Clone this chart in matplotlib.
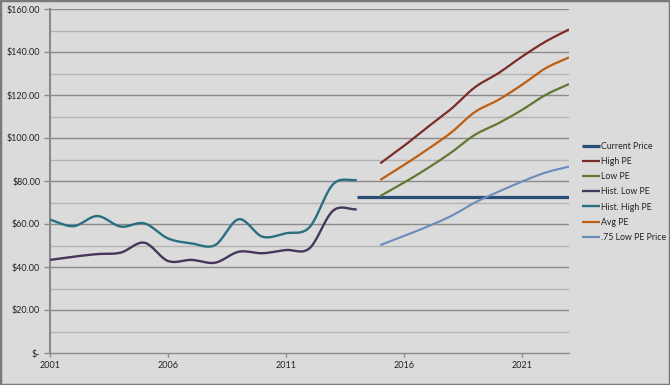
import numpy as np
import matplotlib
matplotlib.use("Agg")
import matplotlib.pyplot as plt
from matplotlib.patches import Rectangle

plt.rcParams['font.family'] = ['Lato', 'DejaVu Sans']

# ---- data ----
hist_years = list(range(2001, 2015))
hist_high_pe = [62.0, 59.0, 63.7, 58.8, 60.3, 53.3, 51.0, 50.2, 62.2, 54.1, 55.7, 58.5, 78.5, 80.5]
hist_low_pe = [43.3, 44.8, 46.0, 46.7, 51.3, 42.8, 43.3, 42.0, 47.1, 46.4, 47.9, 48.7, 66.2, 66.8]

cur_years = list(range(2014, 2024))
current_price = [72.7] * len(cur_years)

fut_years = list(range(2015, 2024))
high_pe = [88.2, 96.3, 105.0, 113.5, 123.5, 130.1, 137.8, 144.8, 150.5]
avg_pe = [80.5, 87.4, 94.7, 102.5, 112.0, 117.7, 124.7, 132.4, 137.5]
low_pe = [73.0, 79.2, 85.9, 93.2, 101.4, 106.8, 113.0, 120.0, 125.1]
low_pe_75 = [50.2, 54.4, 58.8, 63.7, 69.9, 75.0, 79.7, 83.9, 86.7]

xticks = [2001, 2006, 2011, 2016, 2021]
yticks = [0, 20, 40, 60, 80, 100, 120, 140, 160]
ytick_labels = ["$-", "$20.00", "$40.00", "$60.00", "$80.00", "$100.00", "$120.00", "$140.00", "$160.00"]


def smooth(x, y, n=20):
    """Catmull-Rom style smoothing for display (like Excel smoothed lines)."""
    x = np.asarray(x, float)
    y = np.asarray(y, float)
    if len(x) < 3:
        return x, y
    px = np.concatenate([[2 * x[0] - x[1]], x, [2 * x[-1] - x[-2]]])
    py = np.concatenate([[2 * y[0] - y[1]], y, [2 * y[-1] - y[-2]]])
    xs, ys = [], []
    t = np.linspace(0, 1, n, endpoint=False)
    for i in range(1, len(px) - 2):
        p0, p1, p2, p3 = py[i - 1], py[i], py[i + 1], py[i + 2]
        q0, q1, q2, q3 = px[i - 1], px[i], px[i + 1], px[i + 2]
        ys.append(0.5 * ((2 * p1) + (-p0 + p2) * t + (2 * p0 - 5 * p1 + 4 * p2 - p3) * t ** 2
                         + (-p0 + 3 * p1 - 3 * p2 + p3) * t ** 3))
        xs.append(0.5 * ((2 * q1) + (-q0 + q2) * t + (2 * q0 - 5 * q1 + 4 * q2 - q3) * t ** 2
                         + (-q0 + 3 * q1 - 3 * q2 + q3) * t ** 3))
    xs.append([x[-1]])
    ys.append([y[-1]])
    return np.concatenate(xs), np.concatenate(ys)


bg = "#dbdbdb"
fig = plt.figure(figsize=(6.7, 3.85), dpi=100, facecolor=bg)
ax = fig.add_axes([50 / 670, 1 - 353 / 385, (569 - 50) / 670, (353 - 9) / 385])
ax.set_facecolor(bg)

# gridlines
for v in range(10, 161, 10):
    if v % 20 == 0:
        ax.axhline(v, color="#8a8a8a", lw=1.0, zorder=1)
    else:
        ax.axhline(v, color="#b3b3b3", lw=1.0, zorder=1)

series = [
    ("Current Price", cur_years, current_price, "#2b4e77", 2.3, False),
    ("High PE", fut_years, high_pe, "#7a2c2b", 1.6, True),
    ("Low PE", fut_years, low_pe, "#617832", 1.6, True),
    ("Hist. Low PE", hist_years, hist_low_pe, "#463659", 1.7, True),
    ("Hist. High PE", hist_years, hist_high_pe, "#2a6f80", 1.7, True),
    ("Avg PE", fut_years, avg_pe, "#bd5e12", 1.6, True),
    (".75 Low PE Price", fut_years, low_pe_75, "#6a8cbb", 1.5, True),
]
for name, xs, ys, col, lw, sm in series:
    if sm:
        sx, sy = smooth(xs, ys)
    else:
        sx, sy = xs, ys
    ax.plot(sx, sy, color=col, lw=lw, label=name, zorder=3, solid_capstyle="butt")

ax.set_xlim(2001, 2023)
ax.set_ylim(0, 160)
ax.set_xticks(xticks)
ax.set_xticklabels([str(v) for v in xticks], fontsize=6.5, color="#222222")
ax.set_yticks(yticks)
ax.set_yticklabels(ytick_labels, fontsize=6.5, color="#222222")
ax.tick_params(axis="y", length=4, width=1, color="#8a8a8a", pad=3)
ax.tick_params(axis="x", length=3, width=1, color="#8a8a8a", pad=3)

for s in ["top", "right"]:
    ax.spines[s].set_visible(False)
ax.spines["left"].set_color("#8a8a8a")
ax.spines["left"].set_linewidth(1.5)
ax.spines["bottom"].set_color("#8a8a8a")
ax.spines["bottom"].set_linewidth(1.0)

leg = fig.legend(loc="upper left", bbox_to_anchor=(582 / 670, 1 - 142 / 385),
                 frameon=False, fontsize=6.3, handlelength=2.0, handletextpad=0.2,
                 labelspacing=0.70, borderaxespad=0, borderpad=0)
for t in leg.get_texts():
    t.set_color("#222222")

# figure border
fig.patches.append(Rectangle((0, 0), 1, 1, transform=fig.transFigure, fill=False,
                             edgecolor="#7a7a7a", lw=2.5, zorder=10))

fig.savefig("out.png", dpi=100, facecolor=bg)
